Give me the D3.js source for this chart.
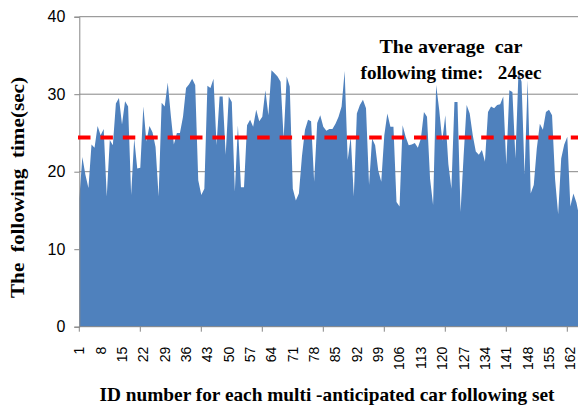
<!DOCTYPE html>
<html>
<head>
<meta charset="utf-8">
<script src="https://cdn.jsdelivr.net/npm/d3@7/dist/d3.min.js"></script>
<style>
  html, body { margin: 0; padding: 0; background: #fff; }
  svg { display: block; }
  .title { font-family: "Liberation Serif", "Times New Roman", serif; font-weight: bold; fill: #000; white-space: pre; }
  .tick-label { font-family: "Liberation Sans", Arial, sans-serif; fill: #000; }
</style>
</head>
<body>
<svg id="chart"></svg>
<script>
// chart values
const ids = d3.range(1, 166);

const followingTime = [
  16.5, 21.9, 19.6, 17.9, 23.5, 23.1, 25.9, 24.7, 25.5, 16.8,
  24.1, 23.4, 28.8, 29.5, 26.1, 29.1, 28.4, 17.0, 24.3, 20.4,
  20.5, 28.4, 23.9, 25.9, 25.1, 23.2, 16.8, 28.9, 28.4, 31.5,
  27.3, 23.5, 25.0, 25.0, 27.1, 30.8, 31.3, 32.0, 31.2, 18.9,
  17.0, 17.8, 31.1, 30.8, 32.0, 23.4, 29.7, 29.7, 22.2, 29.7,
  29.0, 17.4, 26.0, 18.0, 18.0, 26.0, 26.7, 25.8, 28.0, 26.5,
  27.1, 30.5, 27.3, 33.1, 32.7, 32.3, 31.6, 24.3, 32.3, 31.0,
  17.8, 16.3, 17.2, 22.0, 25.4, 26.7, 26.5, 18.7, 26.3, 27.3,
  25.8, 25.3, 25.5, 25.5, 26.2, 27.1, 28.4, 33.0, 21.5, 24.5,
  16.8, 27.5, 28.6, 29.3, 28.2, 18.3, 24.3, 23.4, 20.2, 18.7,
  24.7, 27.5, 25.8, 25.8, 16.1, 15.5, 26.0, 24.5, 23.4, 23.5,
  23.7, 23.1, 24.3, 27.7, 27.1, 19.1, 15.7, 31.2, 28.0, 24.0,
  27.3, 21.0, 17.8, 29.0, 29.0, 14.8, 22.0, 28.6, 27.5, 24.7,
  22.6, 22.2, 22.8, 21.3, 27.7, 28.4, 28.2, 28.6, 28.7, 29.7,
  20.9, 30.5, 30.3, 21.7, 32.9, 31.6, 19.6, 31.8, 17.2, 18.3,
  23.0, 26.2, 25.4, 27.7, 28.0, 27.3, 19.0, 14.5, 21.7, 23.5,
  24.5, 15.5, 17.2, 16.0, 14.0
];

const averageTime = 24.4;

const xTickLabels = [1, 8, 15, 22, 29, 36, 43, 50, 57, 64, 71, 78, 85, 92, 99,
  106, 113, 120, 127, 134, 141, 148, 155, 162];
const xTickMarks = [1, 21, 41, 61, 81, 101, 121, 141, 161];
const yTicks = [0, 10, 20, 30, 40];

const yTitle = 'The  following  time(sec)';
const xTitle = 'ID number for each multi -anticipated car following set';
const noteLines = ['The average  car', 'following time:   24sec'];

const width = 578;
const height = 410;

const svg = d3.select('#chart')
  .attr('width', width)
  .attr('height', height);

const x = d3.scaleLinear()
  .domain([1, 165])
  .range([79.3, 79.3 + 164 * 3.05]);

const y = d3.scaleLinear()
  .domain([0, 40])
  .range([326.7, 16.7]);

const axisColor = '#868686';

// gridlines (behind the area)
svg.append('g')
  .selectAll('line')
  .data(yTicks.filter(d => d > 0))
  .join('line')
  .attr('x1', x.range()[0])
  .attr('x2', width)
  .attr('y1', d => y(d))
  .attr('y2', d => y(d))
  .attr('stroke', axisColor)
  .attr('stroke-width', 1);

// area
const area = d3.area()
  .x((d, i) => x(ids[i]))
  .y0(y(0))
  .y1(d => y(d));

svg.append('path')
  .datum(followingTime)
  .attr('d', area)
  .attr('fill', '#4f81bd');

// y axis
const yAxis = svg.append('g')
  .attr('transform', `translate(${ x.range()[0] },0)`)
  .call(d3.axisLeft(y).tickValues(yTicks).tickSize(5).tickPadding(9));

yAxis.select('.domain').attr('stroke', axisColor);
yAxis.selectAll('.tick line').attr('stroke', axisColor);
yAxis.selectAll('.tick text')
  .attr('class', 'tick-label')
  .style('font-size', '16px')
  .attr('fill', '#000');

// x axis
const xAxisG = svg.append('g')
  .attr('transform', `translate(0,${ y(0) })`);

xAxisG.append('line')
  .attr('x1', x.range()[0])
  .attr('x2', width)
  .attr('stroke', axisColor);

xAxisG.selectAll('line.tickmark')
  .data(xTickMarks)
  .join('line')
  .attr('class', 'tickmark')
  .attr('x1', d => x(d))
  .attr('x2', d => x(d))
  .attr('y1', 0)
  .attr('y2', 5)
  .attr('stroke', axisColor);

xAxisG.selectAll('text')
  .data(xTickLabels)
  .join('text')
  .attr('class', 'tick-label')
  .attr('transform', d => `translate(${ x(d) },20) rotate(-90)`)
  .attr('text-anchor', 'end')
  .attr('dy', '0.35em')
  .style('font-size', '14px')
  .text(d => d);

// average line
svg.append('line')
  .attr('x1', 78)
  .attr('x2', width)
  .attr('y1', y(averageTime))
  .attr('y2', y(averageTime))
  .attr('stroke', '#ff0000')
  .attr('stroke-width', 4)
  .attr('stroke-dasharray', '12.5 9.9');

// annotation
svg.append('g')
  .selectAll('text')
  .data(noteLines)
  .join('text')
  .attr('class', 'title')
  .attr('x', 451)
  .attr('y', (d, i) => 53 + i * 26)
  .attr('text-anchor', 'middle')
  .attr('textLength', (d, i) => i === 0 ? 143 : 181)
  .attr('lengthAdjust', 'spacingAndGlyphs')
  .style('font-size', '19px')
  .text(d => d);

// axis titles
svg.append('text')
  .attr('class', 'title')
  .attr('transform', 'translate(24,187.5) rotate(-90)')
  .attr('text-anchor', 'middle')
  .attr('textLength', 221)
  .attr('lengthAdjust', 'spacingAndGlyphs')
  .style('font-size', '19px')
  .text(yTitle);

svg.append('text')
  .attr('class', 'title')
  .attr('x', 327)
  .attr('y', 401)
  .attr('text-anchor', 'middle')
  .attr('textLength', 455)
  .attr('lengthAdjust', 'spacingAndGlyphs')
  .style('font-size', '19px')
  .text(xTitle);
</script>
</body>
</html>
